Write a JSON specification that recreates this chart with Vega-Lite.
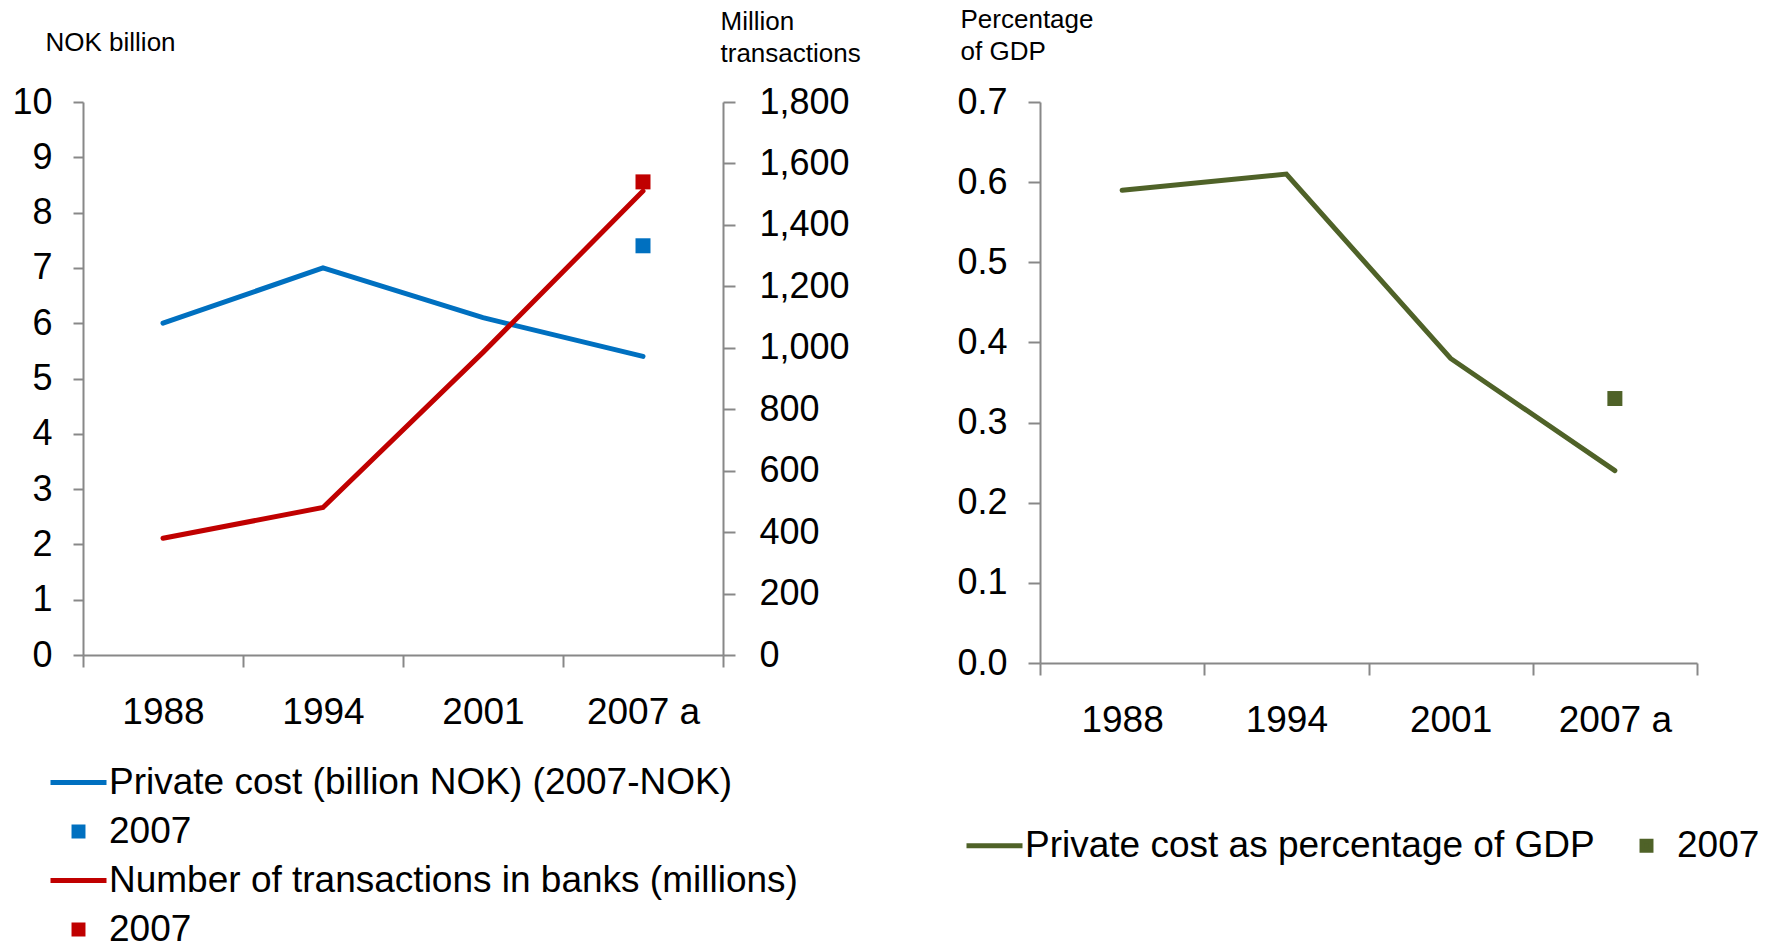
{
  "$schema": "https://vega.github.io/schema/vega-lite/v6.json",
  "background": "white",
  "padding": {"left": 11, "top": 6, "right": 5, "bottom": 20},
  "bounds": "flush",
  "spacing": 317,
  "datasets": {
    "costs": [
      {"year": "1988", "series": "Private cost (billion NOK) (2007-NOK)", "value": 6.0},
      {"year": "1994", "series": "Private cost (billion NOK) (2007-NOK)", "value": 7.0},
      {"year": "2001", "series": "Private cost (billion NOK) (2007-NOK)", "value": 6.1},
      {"year": "2007 a", "series": "Private cost (billion NOK) (2007-NOK)", "value": 5.4},
      {"year": "2007 a", "series": "2007 cost", "value": 7.4},
      {"year": "1988", "series": "Number of transactions in banks (millions)", "value": 380},
      {"year": "1994", "series": "Number of transactions in banks (millions)", "value": 480},
      {"year": "2001", "series": "Number of transactions in banks (millions)", "value": 985},
      {"year": "2007 a", "series": "Number of transactions in banks (millions)", "value": 1510},
      {"year": "2007 a", "series": "2007 transactions", "value": 1540}
    ],
    "gdp": [
      {"year": "1988", "series": "Private cost as percentage of GDP", "value": 0.59},
      {"year": "1994", "series": "Private cost as percentage of GDP", "value": 0.61},
      {"year": "2001", "series": "Private cost as percentage of GDP", "value": 0.38},
      {"year": "2007 a", "series": "Private cost as percentage of GDP", "value": 0.24},
      {"year": "2007 a", "series": "2007 gdp", "value": 0.33}
    ]
  },
  "hconcat": [
    {
      "name": "costs",
      "data": {"name": "costs"},
      "width": 640,
      "height": 553,
      "encoding": {
        "x": {
          "field": "year", "type": "nominal", "sort": ["1988", "1994", "2001", "2007 a"],
          "bandPosition": 0.5,
          "scale": {"type": "band", "paddingInner": 0, "paddingOuter": 0},
          "axis": {"title": null, "tickBand": "extent", "tickSize": 12, "labelPadding": 27, "labelAngle": 0, "labelFontSize": 37}
        },
        "color": {
          "field": "series", "type": "nominal",
          "scale": {
            "domain": ["Private cost (billion NOK) (2007-NOK)", "2007 cost", "Number of transactions in banks (millions)", "2007 transactions"],
            "range": ["#0070C0", "#0070C0", "#C00000", "#C00000"]
          },
          "legend": {
            "orient": "none", "legendX": -35, "legendY": 650, "direction": "vertical",
            "title": null, "padding": 0, "rowPadding": -13.5, "labelOffset": 0,
            "labelFont": "Liberation Sans", "labelFontSize": 37, "labelColor": "#000000", "labelLimit": 0,
            "labelExpr": "indexof(datum.label, '2007 ') === 0 ? '2007' : datum.label",
            "symbolSize": 3136, "symbolStrokeWidth": 5,
            "encode": {
              "symbols": {
                "update": {
                  "shape": {"signal": "indexof(datum.value, '2007 ') === 0 ? 'M-0.16,-0.16H0.16V0.16H-0.16Z' : 'M-1,0H1'"},
                  "size": {"value": 3136},
                  "fill": [{"test": "datum.value === 'Private cost (billion NOK) (2007-NOK)' || datum.value === '2007 cost'", "value": "#0070C0"}, {"value": "#C00000"}],
                  "stroke": [{"test": "datum.value === 'Private cost (billion NOK) (2007-NOK)' || datum.value === '2007 cost'", "value": "#0070C0"}, {"value": "#C00000"}],
                  "strokeWidth": {"value": 5},
                  "opacity": {"value": 1}
                }
              }
            }
          }
        }
      },
      "layer": [
        {
          "encoding": {
            "y": {
              "field": "value", "type": "quantitative",
              "scale": {"domain": [0, 10], "nice": false, "zero": true},
              "axis": {
                "values": [0, 1, 2, 3, 4, 5, 6, 7, 8, 9, 10], "format": "d",
                "tickSize": 10, "labelPadding": 21,
                "title": "NOK billion", "titleAngle": 0, "titleAlign": "left", "titleBaseline": "alphabetic",
                "titleX": -38, "titleY": -52
              }
            }
          },
          "layer": [
            {
              "transform": [{"filter": "datum.series === 'Private cost (billion NOK) (2007-NOK)'"}],
              "mark": {"type": "line", "strokeWidth": 5, "strokeCap": "round"}
            },
            {
              "transform": [{"filter": "datum.series === '2007 cost'"}],
              "mark": {"type": "point", "shape": "square", "filled": true, "size": 225, "opacity": 1, "strokeWidth": 0}
            }
          ]
        },
        {
          "encoding": {
            "y": {
              "field": "value", "type": "quantitative",
              "scale": {"domain": [0, 1800], "nice": false, "zero": true},
              "axis": {
                "orient": "right",
                "values": [0, 200, 400, 600, 800, 1000, 1200, 1400, 1600, 1800], "format": ",d",
                "tickSize": 12, "labelPadding": 24,
                "title": ["Million", "transactions"], "titleAngle": 0, "titleAlign": "left", "titleBaseline": "alphabetic",
                "titleX": -3, "titleY": -73, "titleLineHeight": 32
              }
            }
          },
          "layer": [
            {
              "transform": [{"filter": "datum.series === 'Number of transactions in banks (millions)'"}],
              "mark": {"type": "line", "strokeWidth": 5, "strokeCap": "round"}
            },
            {
              "transform": [{"filter": "datum.series === '2007 transactions'"}],
              "mark": {"type": "point", "shape": "square", "filled": true, "size": 225, "opacity": 1, "strokeWidth": 0}
            }
          ]
        }
      ],
      "resolve": {"scale": {"y": "independent"}, "axis": {"y": "independent"}}
    },
    {
      "name": "share",
      "data": {"name": "gdp"},
      "width": 657,
      "height": 561,
      "encoding": {
        "x": {
          "field": "year", "type": "nominal", "sort": ["1988", "1994", "2001", "2007 a"],
          "bandPosition": 0.5,
          "scale": {"type": "band", "paddingInner": 0, "paddingOuter": 0},
          "axis": {"title": null, "tickBand": "extent", "tickSize": 12, "labelPadding": 27, "labelAngle": 0, "labelFontSize": 37}
        },
        "y": {
          "field": "value", "type": "quantitative",
          "scale": {"domain": [0, 0.7], "nice": false, "zero": true},
          "axis": {
            "values": [0, 0.1, 0.2, 0.3, 0.4, 0.5, 0.6, 0.7], "format": ".1f",
            "tickSize": 12, "labelPadding": 21,
            "title": ["Percentage", "of GDP"], "titleAngle": 0, "titleAlign": "left", "titleBaseline": "alphabetic",
            "titleX": -80, "titleY": -75, "titleLineHeight": 32
          }
        },
        "color": {
          "field": "series", "type": "nominal",
          "scale": {
            "domain": ["Private cost as percentage of GDP", "2007 gdp"],
            "range": ["#4F6228", "#4F6228"]
          },
          "legend": {
            "orient": "none", "legendX": -76, "legendY": 713, "direction": "horizontal",
            "title": null, "padding": 0, "columnPadding": 21, "labelOffset": 0,
            "labelFont": "Liberation Sans", "labelFontSize": 37, "labelColor": "#000000", "labelLimit": 0,
            "labelExpr": "indexof(datum.label, '2007 ') === 0 ? '2007' : datum.label",
            "symbolSize": 3136, "symbolStrokeWidth": 5,
            "encode": {
              "symbols": {
                "update": {
                  "shape": {"signal": "indexof(datum.value, '2007 ') === 0 ? 'M-0.16,-0.16H0.16V0.16H-0.16Z' : 'M-1,0H1'"},
                  "size": {"value": 3136},
                  "fill": {"value": "#4F6228"},
                  "stroke": {"value": "#4F6228"},
                  "strokeWidth": {"value": 5},
                  "opacity": {"value": 1}
                }
              }
            }
          }
        }
      },
      "layer": [
        {
          "transform": [{"filter": "datum.series === 'Private cost as percentage of GDP'"}],
          "mark": {"type": "line", "strokeWidth": 5, "strokeCap": "round"}
        },
        {
          "transform": [{"filter": "datum.series === '2007 gdp'"}],
          "mark": {"type": "point", "shape": "square", "filled": true, "size": 225, "opacity": 1, "strokeWidth": 0}
        }
      ]
    }
  ],
  "resolve": {
    "scale": {"x": "independent", "y": "independent", "color": "independent"},
    "legend": {"color": "independent"}
  },
  "config": {
    "font": "Liberation Sans",
    "view": {"stroke": null},
    "axis": {
      "grid": false,
      "domainColor": "#888888", "domainWidth": 2,
      "tickColor": "#888888", "tickWidth": 2,
      "labelFont": "Liberation Sans", "labelFontSize": 36, "labelColor": "#000000",
      "labelOverlap": false, "labelFlush": false,
      "titleFont": "Liberation Sans", "titleFontSize": 26, "titleFontWeight": "normal", "titleColor": "#000000"
    }
  }
}
